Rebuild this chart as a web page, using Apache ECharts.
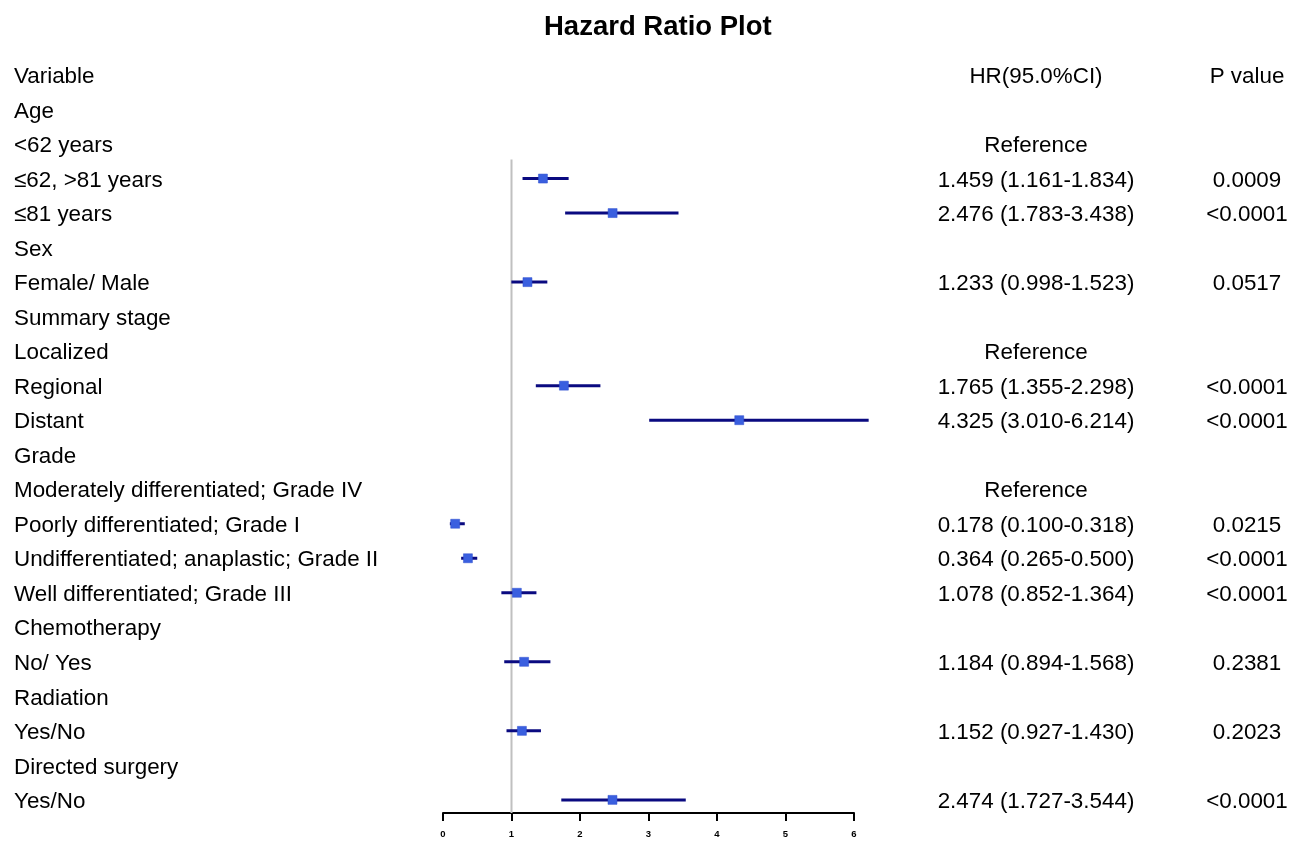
<!DOCTYPE html>
<html>
<head>
<meta charset="utf-8">
<script src="https://cdn.jsdelivr.net/npm/echarts@6/dist/echarts.min.js"></script>
<style>
  html, body { margin: 0; padding: 0; background: #fff; }
  #chart { width: 1292px; height: 843px; }
</style>
</head>
<body>
<div id="chart"></div>
<script>
const labels = ['Variable', 'Age', '<62 years', '≤62, >81 years', '≤81 years', 'Sex', 'Female/ Male',
  'Summary stage', 'Localized', 'Regional', 'Distant', 'Grade', 'Moderately differentiated; Grade IV',
  'Poorly differentiated; Grade I', 'Undifferentiated; anaplastic; Grade II', 'Well differentiated; Grade III',
  'Chemotherapy', 'No/ Yes', 'Radiation', 'Yes/No', 'Directed surgery', 'Yes/No'];
const hrText = ['HR(95.0%CI)', '', 'Reference', '1.459 (1.161-1.834)', '2.476 (1.783-3.438)', '',
  '1.233 (0.998-1.523)', '', 'Reference', '1.765 (1.355-2.298)', '4.325 (3.010-6.214)', '', 'Reference',
  '0.178 (0.100-0.318)', '0.364 (0.265-0.500)', '1.078 (0.852-1.364)', '', '1.184 (0.894-1.568)', '',
  '1.152 (0.927-1.430)', '', '2.474 (1.727-3.544)'];
const pText = ['P value', '', '', '0.0009', '<0.0001', '', '0.0517', '', '', '<0.0001', '<0.0001', '', '',
  '0.0215', '<0.0001', '<0.0001', '', '0.2381', '', '0.2023', '', '<0.0001'];
const hr = [null, null, null, 1.459, 2.476, null, 1.233, null, null, 1.765, 4.325, null, null,
  0.178, 0.364, 1.078, null, 1.184, null, 1.152, null, 2.474];
const lower = [null, null, null, 1.161, 1.783, null, 0.998, null, null, 1.355, 3.010, null, null,
  0.100, 0.265, 0.852, null, 0.894, null, 0.927, null, 1.727];
const upper = [null, null, null, 1.834, 3.438, null, 1.523, null, null, 2.298, 6.214, null, null,
  0.318, 0.500, 1.364, null, 1.568, null, 1.430, null, 3.544];
const xTicks = [0, 1, 2, 3, 4, 5, 6];

const FONT = '"Liberation Sans", Arial, sans-serif';
const chart = echarts.init(document.getElementById('chart'), null, { renderer: 'canvas' });

const ciData = [];
hr.forEach((v, i) => { if (v !== null) ciData.push([i, lower[i], upper[i], v]); });
const textData = labels.map((l, i) => [i, l, hrText[i], pText[i]]);

chart.setOption({
  animation: false,
  backgroundColor: '#ffffff',
  title: {
    text: 'Hazard Ratio Plot', left: 539, top: 8,
    textStyle: { fontFamily: FONT, fontSize: 27.5, fontWeight: 'bold', color: '#000' }
  },
  grid: { left: 443, right: 438, top: 75, bottom: 30 },
  xAxis: {
    type: 'value', min: xTicks[0], max: xTicks[xTicks.length - 1], interval: 1,
    splitLine: { show: false },
    axisLine: { show: true, onZero: false, lineStyle: { color: '#000', width: 2 } },
    axisTick: { show: true, length: 8, lineStyle: { color: '#000', width: 2 } },
    axisLabel: { fontFamily: FONT, fontSize: 9.5, fontWeight: 'bold', color: '#000', margin: 16 }
  },
  yAxis: { type: 'value', inverse: true, min: 0, max: 21.38, show: false },
  series: [
    {
      type: 'custom', clip: false, silent: true,
      data: [[1, 2.45, 21.38]],
      renderItem: (params, api) => {
        const p1 = api.coord([api.value(0), api.value(1)]);
        const p2 = api.coord([api.value(0), api.value(2)]);
        return { type: 'line', shape: { x1: p1[0], y1: p1[1], x2: p2[0], y2: p2[1] },
          style: { stroke: '#c0c0c0', lineWidth: 2 } };
      }
    },
    {
      type: 'custom', clip: false, silent: true,
      data: ciData,
      renderItem: (params, api) => {
        const row = api.value(0);
        const a = api.coord([api.value(1), row]);
        const b = api.coord([api.value(2), row]);
        const c = api.coord([api.value(3), row]);
        return { type: 'group', children: [
          { type: 'line', shape: { x1: a[0], y1: a[1], x2: b[0], y2: b[1] },
            style: { stroke: '#0a0a80', lineWidth: 3 } },
          { type: 'rect', shape: { x: c[0] - 4.5, y: c[1] - 4.5, width: 9, height: 9 },
            style: { fill: '#3a5fdf', stroke: '#2f4fcf', lineWidth: 0.5 } }
        ] };
      }
    },
    {
      type: 'custom', clip: false, silent: true,
      data: textData,
      renderItem: (params, api) => {
        const i = api.value(0);
        const y = api.coord([0, i])[1] + 2;
        const d = textData[params.dataIndex];
        const st = { fontFamily: FONT, fontSize: 22.4, fill: '#000', verticalAlign: 'middle' };
        return { type: 'group', children: [
          { type: 'text', x: 14, y: y, style: Object.assign({ text: d[1], align: 'left' }, st) },
          { type: 'text', x: 1036, y: y, style: Object.assign({ text: d[2], align: 'center' }, st) },
          { type: 'text', x: 1247, y: y, style: Object.assign({ text: d[3], align: 'center' }, st) }
        ] };
      }
    }
  ]
});
</script>
</body>
</html>
